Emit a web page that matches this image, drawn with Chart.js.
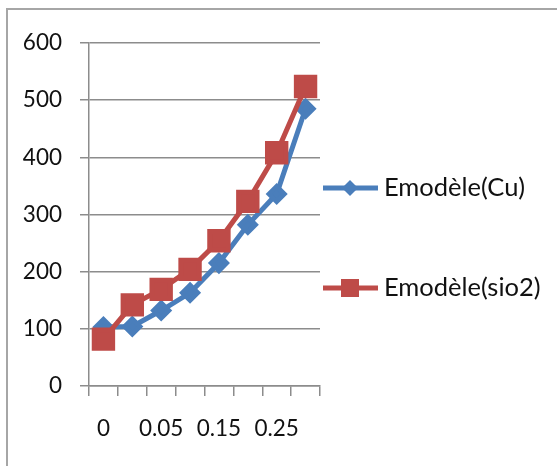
<!DOCTYPE html>
<html>
<head>
<meta charset="utf-8">
<script src="https://cdn.jsdelivr.net/npm/chart.js@4.4.0/dist/chart.umd.min.js"></script>
<style>
  body { margin: 0; background: #fff; }
  #wrap { position: relative; width: 557px; height: 466px; overflow: hidden; }
  #frame { position: absolute; left: 6px; top: 8px; width: 600px; height: 500px;
           border-left: 2px solid #a6a6a6; border-top: 2px solid #a6a6a6; }
  canvas { position: absolute; left: 0; top: 0; }
</style>
</head>
<body>
<div id="wrap">
  <div id="frame"></div>
  <canvas id="lineChart" width="557" height="466"></canvas>
</div>
<script>
// categories (every other one is labelled on the axis)
const fractions = ['0', '0.02', '0.05', '0.1', '0.15', '0.2', '0.25', '0.3'];
const eCu = [103, 104, 132, 163, 215, 282, 336, 485];
const eSio2 = [82, 142, 169, 204, 254, 323, 408, 524];
const yTicks = [0, 100, 200, 300, 400, 500, 600];

const blue = '#4a7ebb';
const red = '#be4b48';
const font = { family: 'Lato', size: 22.5 };

// legend drawn by hand: line with marker in the middle, like Excel
const sideLegend = {
    id: 'sideLegend',
    afterDraw(chart) {
        const ctx = chart.ctx;
        const items = [
            { text: 'Emodèle(Cu)', color: blue, style: 'diamond', y: 188 },
            { text: 'Emodèle(sio2)', color: red, style: 'square', y: 288 }
        ];
        ctx.save();
        items.forEach(item => {
            ctx.strokeStyle = item.color;
            ctx.fillStyle = item.color;
            ctx.lineWidth = 5;
            ctx.beginPath();
            ctx.moveTo(323, item.y);
            ctx.lineTo(378, item.y);
            ctx.stroke();
            ctx.beginPath();
            if (item.style === 'diamond') {
                ctx.moveTo(350, item.y - 8);
                ctx.lineTo(358, item.y);
                ctx.lineTo(350, item.y + 8);
                ctx.lineTo(342, item.y);
                ctx.closePath();
            } else {
                ctx.rect(341, item.y - 9, 18, 18);
            }
            ctx.fill();
            ctx.fillStyle = '#111';
            ctx.font = '25.5px Lato';
            ctx.textAlign = 'left';
            ctx.textBaseline = 'middle';
            ctx.fillText(item.text, 384, item.y);
        });
        ctx.restore();
    }
};

new Chart(document.getElementById('lineChart'), {
    type: 'line',
    data: {
        labels: fractions,
        datasets: [{
            label: 'Emodèle(Cu)',
            data: eCu,
            borderColor: blue,
            backgroundColor: blue,
            borderWidth: 5,
            pointStyle: 'rectRot',
            pointRadius: 7.5,
            pointHoverRadius: 7.5,
            order: 1
        }, {
            label: 'Emodèle(sio2)',
            data: eSio2,
            borderColor: red,
            backgroundColor: red,
            borderWidth: 5,
            pointStyle: 'rect',
            pointRadius: 13,
            pointHoverRadius: 13,
            order: 0
        }]
    },
    options: {
        responsive: false,
        animation: false,
        layout: { padding: { top: 43, right: 237, bottom: 0, left: 0 } },
        plugins: {
            legend: { display: false },
            tooltip: { enabled: false }
        },
        scales: {
            x: {
                offset: true,
                afterFit: scale => { scale.height = 80; },
                grid: {
                    offset: true,
                    drawOnChartArea: false,
                    tickLength: 10,
                    color: '#8c8c8c',
                    lineWidth: 1.5
                },
                border: { color: '#8c8c8c', width: 1.5 },
                ticks: {
                    autoSkip: false,
                    maxRotation: 0,
                    padding: 19,
                    color: '#111',
                    font: font,
                    callback: (val, i) => (i % 2 === 0 ? fractions[i] : '')
                }
            },
            y: {
                min: yTicks[0],
                max: yTicks[yTicks.length - 1],
                afterFit: scale => { scale.width = 89; },
                afterBuildTicks: scale => { scale.ticks = yTicks.map(v => ({ value: v })); },
                grid: {
                    tickLength: 9,
                    color: '#8c8c8c',
                    lineWidth: 1.5
                },
                border: { color: '#8c8c8c', width: 1.5 },
                ticks: {
                    padding: 18,
                    color: '#111',
                    font: font
                }
            }
        }
    },
    plugins: [sideLegend]
});
</script>
</body>
</html>
